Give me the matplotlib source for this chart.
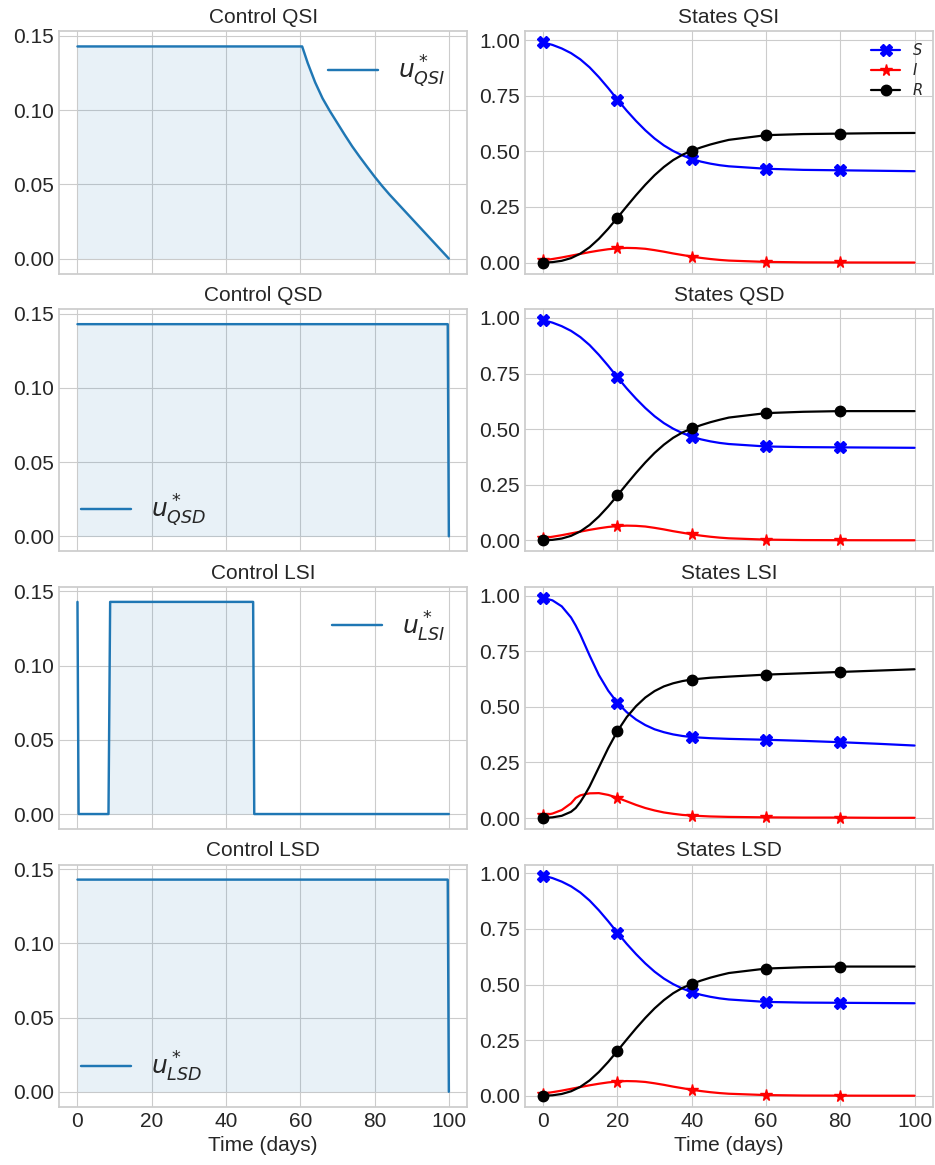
import numpy as np
import matplotlib
matplotlib.use("Agg")
import matplotlib.pyplot as plt

plt.style.use("seaborn-v0_8-whitegrid")
plt.rcParams["font.family"] = ["Liberation Sans", "DejaVu Sans"]
plt.rcParams["mathtext.fontset"] = "dejavusans"

# Optimal controls u*(t) for the four strategies
t_qsi = [0, 60.5, 62, 64, 66, 68, 70, 72, 74, 76, 78, 80, 82, 84, 100]
u_qsi = [0.1429, 0.1429, 0.1317, 0.1187, 0.1079, 0.0992, 0.0912, 0.0832,
         0.0755, 0.0685, 0.0618, 0.0552, 0.049, 0.0432, 0.0]

t_qsd = [0, 99.7, 100]
u_qsd = [0.1429, 0.1429, 0.0]

t_lsi = [0, 0.3, 8.35, 8.8, 47.3, 47.6, 100]
u_lsi = [0.1429, 0.0, 0.0, 0.1429, 0.1429, 0.0, 0.0]

t_lsd = [0, 99.7, 100]
u_lsd = [0.1429, 0.1429, 0.0]

# State trajectories S, I, R
days = [0, 2.5, 5, 7.5, 10, 12.5, 15, 17.5, 20, 22.5, 25, 27.5, 30, 32.5,
        35, 37.5, 40, 42.5, 45, 47.5, 50, 60, 70, 80, 90, 100]

s_qsi = [0.99, 0.979, 0.963, 0.942, 0.914, 0.878, 0.834, 0.785, 0.733, 0.683,
         0.637, 0.595, 0.558, 0.527, 0.502, 0.482, 0.466, 0.454, 0.445, 0.438,
         0.433, 0.422, 0.417, 0.415, 0.413, 0.411]
i_qsi = [0.01, 0.016, 0.023, 0.031, 0.039, 0.047, 0.054, 0.06, 0.064, 0.066,
         0.065, 0.062, 0.056, 0.049, 0.041, 0.034, 0.027, 0.021, 0.016, 0.012,
         0.009, 0.003, 0.001, 0.0005, 0.0002, 0.0001]
r_qsi = [0.0, 0.002, 0.008, 0.02, 0.04, 0.069, 0.107, 0.152, 0.202, 0.253,
         0.303, 0.35, 0.393, 0.43, 0.461, 0.485, 0.503, 0.518, 0.531, 0.542,
         0.552, 0.573, 0.578, 0.58, 0.582, 0.583]

s_qsd = [0.99, 0.979, 0.963, 0.942, 0.914, 0.878, 0.834, 0.785, 0.733, 0.683,
         0.637, 0.595, 0.558, 0.527, 0.502, 0.482, 0.466, 0.454, 0.445, 0.438,
         0.433, 0.422, 0.419, 0.418, 0.417, 0.416]
i_qsd = [0.01, 0.016, 0.023, 0.031, 0.039, 0.047, 0.054, 0.06, 0.064, 0.066,
         0.065, 0.062, 0.056, 0.049, 0.041, 0.034, 0.027, 0.021, 0.016, 0.012,
         0.009, 0.003, 0.001, 0.0005, 0.0002, 0.0001]
r_qsd = [0.0, 0.002, 0.008, 0.02, 0.04, 0.069, 0.107, 0.152, 0.202, 0.253,
         0.303, 0.35, 0.393, 0.43, 0.461, 0.485, 0.503, 0.518, 0.531, 0.542,
         0.552, 0.572, 0.578, 0.581, 0.581, 0.581]

days_lsi = [0, 2.5, 5, 7.5, 8.75, 10, 11.25, 12.5, 15, 17.5, 20, 22.5, 25,
            27.5, 30, 32.5, 35, 37.5, 40, 45, 50, 60, 70, 80, 90, 100]
s_lsi = [0.99, 0.979, 0.952, 0.902, 0.866, 0.825, 0.778, 0.731, 0.643, 0.573,
         0.518, 0.476, 0.443, 0.418, 0.399, 0.386, 0.376, 0.369, 0.364, 0.359,
         0.356, 0.352, 0.347, 0.341, 0.334, 0.326]
i_lsi = [0.012, 0.02, 0.036, 0.066, 0.09, 0.102, 0.107, 0.111, 0.112, 0.104,
         0.091, 0.075, 0.059, 0.045, 0.034, 0.025, 0.019, 0.014, 0.011, 0.007,
         0.005, 0.003, 0.002, 0.002, 0.001, 0.001]
r_lsi = [0.0, 0.003, 0.01, 0.028, 0.045, 0.072, 0.105, 0.142, 0.228, 0.314,
         0.391, 0.454, 0.503, 0.542, 0.571, 0.592, 0.606, 0.616, 0.623, 0.631,
         0.636, 0.645, 0.651, 0.657, 0.663, 0.669]

# LSD gives the same trajectories as QSD
s_lsd, i_lsd, r_lsd = s_qsd, i_qsd, r_qsd

strategies = ["QSI", "QSD", "LSI", "LSD"]
controls = [(t_qsi, u_qsi), (t_qsd, u_qsd), (t_lsi, u_lsi), (t_lsd, u_lsd)]
states = [(days, s_qsi, i_qsi, r_qsi), (days, s_qsd, i_qsd, r_qsd),
          (days_lsi, s_lsi, i_lsi, r_lsi), (days, s_lsd, i_lsd, r_lsd)]
legend_locs = ["upper right", "lower left", "upper right", "lower left"]
marker_days = [0, 20, 40, 60, 80]

fig, axes = plt.subplots(4, 2, figsize=(9.35, 11.65), dpi=100, sharex=True)
fig.subplots_adjust(left=0.063, right=0.998, top=0.973, bottom=0.05,
                    hspace=0.147, wspace=0.14)

for k, name in enumerate(strategies):
    ax_u, ax_x = axes[k]

    t, u = controls[k]
    ax_u.plot(t, u, color="#1f77b4", lw=1.75, label=rf"$u^*_{{{name}}}$")
    ax_u.fill_between(t, u, color="#1f77b4", alpha=0.1, lw=0)
    ax_u.set_ylim(-0.0101, 0.1530)
    ax_u.set_yticks([0.0, 0.05, 0.10, 0.15])
    ax_u.set_title(f"Control {name}", fontsize=15)
    ax_u.legend(loc=legend_locs[k], fontsize=18, frameon=False)

    td, s, i, r = states[k]
    idx = [td.index(d) for d in marker_days]
    ax_x.plot(td, s, color="blue", lw=1.6, marker="X", ms=8.5, markevery=idx, label="$S$")
    ax_x.plot(td, i, color="red", lw=1.6, marker="*", ms=8.5, markevery=idx, label="$I$")
    ax_x.plot(td, r, color="black", lw=1.6, marker="o", ms=7.5, markevery=idx, label="$R$")
    ax_x.set_yticks([0.0, 0.25, 0.5, 0.75, 1.0])
    ax_x.set_title(f"States {name}", fontsize=15)
    if k == 0:
        ax_x.legend(loc="upper right", fontsize=10.5, frameon=False,
                    handlelength=2.0, labelspacing=0.3,
                    borderaxespad=0.3)

for ax in axes.flat:
    ax.tick_params(labelsize=15)
    ax.set_xticks([0, 20, 40, 60, 80, 100])
    for sp in ax.spines.values():
        sp.set_color("#cccccc")
        sp.set_linewidth(1.25)

for ax in axes[-1]:
    ax.set_xlabel("Time (days)", fontsize=15)

fig.savefig("out.png", dpi=100)
